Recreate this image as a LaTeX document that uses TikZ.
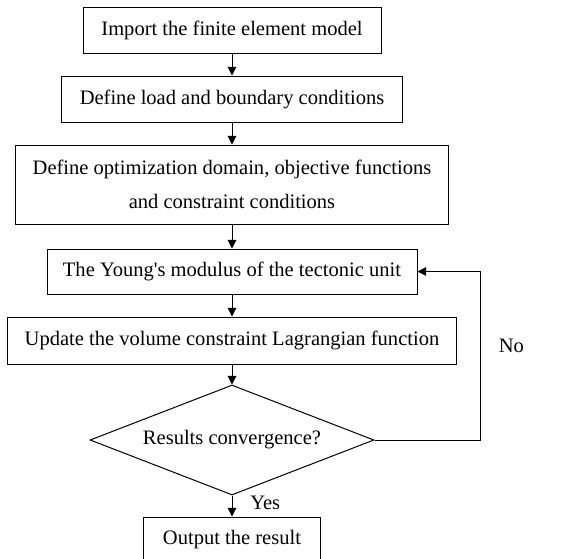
\documentclass[tikz,border=0pt]{standalone}
\usepackage{fontspec}
\setmainfont{Liberation Serif}
\usetikzlibrary{positioning, arrows.meta, shapes.geometric}
\definecolor{clrborder}{HTML}{000000}
\definecolor{clrtext}{HTML}{000000}

\begin{document}
\begin{tikzpicture}[
    every node/.style={font=\fontsize{15.4}{25}\selectfont, text=clrtext},
    block/.style={draw=clrborder, rectangle, minimum height=34.5pt,
                  line width=0.75pt, inner sep=2pt, align=center},
    decision/.style={draw=clrborder, diamond, aspect=2.6, inner sep=0pt,
                     minimum width=213pt, minimum height=82.5pt, line width=0.75pt},
    arrow/.style={-{Triangle[length=6.5pt, width=6.5pt]}, line width=0.75pt, color=clrborder},
]
\useasboundingbox (0,0) rectangle (438.75pt,-418.5pt);
\node[block, minimum width=223.5pt] (n_1) at (174pt,-22.5pt) {Import the finite element model};
\node[block, minimum width=255.75pt, below=16.5pt of n_1] (n_2) {Define load and boundary conditions};
\node[block, minimum width=324.75pt, minimum height=59.25pt, below=16.5pt of n_2] (n_3) {Define optimization domain, objective functions\\and constraint conditions};
\node[block, minimum width=277.5pt, minimum height=33.75pt, below=18pt of n_3] (n_4) {The Young\textquotesingle s modulus of the tectonic unit};
\node[block, minimum width=336.75pt, minimum height=35.25pt, below=16.5pt of n_4] (n_5) {Update the volume constraint Lagrangian function};
\node[decision, below=15pt of n_5] (n_6) {Results convergence?};
\node[block, minimum width=132.75pt, below=15.75pt of n_6] (n_7) {Output the result};
\draw[arrow] (n_1.south) -- (n_2.north);
\draw[arrow] (n_2.south) -- (n_3.north);
\draw[arrow] (n_3.south) -- (n_4.north);
\draw[arrow] (n_4.south) -- (n_5.north);
\draw[arrow] (n_5.south) -- (n_6.north);
\draw[arrow] (n_6.south) -- node[right=10pt, yshift=2pt] {Yes} (n_7.north);
\draw[arrow] (n_6.east) -- ++(79.5pt,0) |- node[pos=0.28, right=10pt] {No} (n_4.east);
\end{tikzpicture}
\end{document}
